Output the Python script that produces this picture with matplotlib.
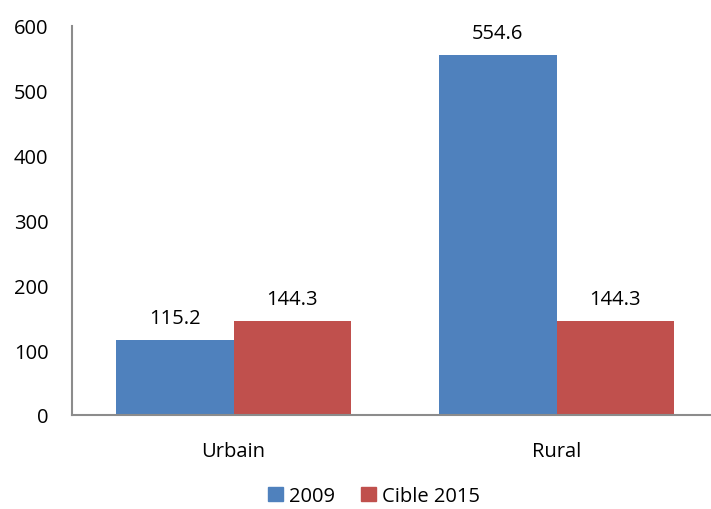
import numpy as np
import matplotlib
matplotlib.use("Agg")
import matplotlib.pyplot as plt
from matplotlib.patches import Patch

categories = ["Urbain", "Rural"]
series_names = ["2009", "Cible 2015"]
values_2009 = [115.2, 554.6]
values_2015 = [144.3, 144.3]
colors = ["#4F81BD", "#C0504D"]

plt.rcParams["font.family"] = ["Open Sans", "DejaVu Sans"]
FS = 14.5

fig = plt.figure(figsize=(7.11, 5.10), dpi=100)
ax = fig.add_axes([72 / 711, 94 / 510, 646 / 711, 389 / 510])

x = np.arange(len(categories))
w = 0.364
b1 = ax.bar(x - w / 2, values_2009, w, color=colors[0], label=series_names[0])
b2 = ax.bar(x + w / 2, values_2015, w, color=colors[1], label=series_names[1])

for bars, vals in ((b1, values_2009), (b2, values_2015)):
    for r, v in zip(bars, vals):
        ax.annotate(f"{v:.1f}", (r.get_x() + r.get_width() / 2, v),
                    xytext=(0, 9), textcoords="offset points",
                    ha="center", va="bottom", fontsize=FS)

ax.set_xlim(-0.5, 1.5)
ax.set_ylim(0, 600)
ax.set_yticks(range(0, 601, 100))
ax.set_xticks(x)
ax.set_xticklabels(categories)
ax.tick_params(axis="both", length=0, labelsize=FS)
ax.tick_params(axis="y", pad=17)
ax.tick_params(axis="x", pad=19)
for s in ("top", "right"):
    ax.spines[s].set_visible(False)
for s in ("left", "bottom"):
    ax.spines[s].set_color("#8c8c8c")
    ax.spines[s].set_linewidth(1.5)

handles = [Patch(color=c) for c in colors]
fig.legend(handles, series_names, loc="center", bbox_to_anchor=(374 / 711, 1 - 497 / 510),
           ncol=2, frameon=False, fontsize=FS, handlelength=0.75, handleheight=0.75,
           handletextpad=0.3, columnspacing=1.3)

fig.savefig("out.png", dpi=100)
